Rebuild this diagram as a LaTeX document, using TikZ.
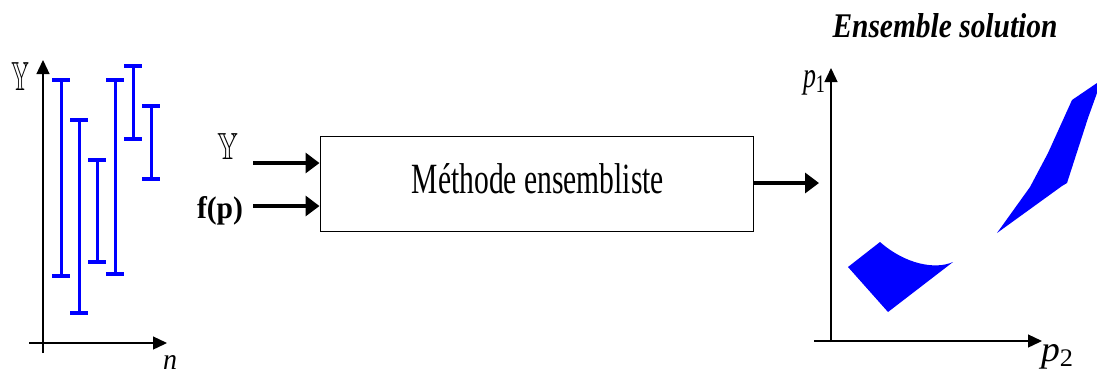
\documentclass[tikz,border=0pt]{standalone}
\usepackage{amssymb}
\usepackage{fontspec}
\setmainfont{Liberation Serif}
\newfontfamily\tms{Liberation Serif}
\usetikzlibrary{arrows.meta}
\definecolor{barblue}{RGB}{0,0,255}
\tikzset{
  axis/.style={line width=1.3pt,-{Triangle[length=14pt,width=13pt]}},
  flow/.style={line width=3.3pt,-{Triangle[length=14pt,width=20pt]}},
  ebar/.style={barblue,line width=3pt},
  ecap/.style={barblue,line width=4.5pt},
  lbl/.style={inner sep=0pt,anchor=base}
}
\newcommand{\fitbox}[3]{\resizebox{#1}{#2}{#3}}
\begin{document}
\begin{tikzpicture}[x=1pt,y=-1pt]
\useasboundingbox (0,0) rectangle (1097,376);
% left plot
\coordinate (lyb) at (43,353);
\coordinate (lyt) at (43,60);
\coordinate (lxl) at (29,343);
\coordinate (lxr) at (167,343);
\draw[axis] (lyb) -- (lyt);
\draw[axis] (lxl) -- (lxr);
\node[lbl] (ylab) at (21,90) {\fitbox{18pt}{28pt}{$\mathbb{Y}$}};
\node[lbl] (nlab) at (170,369) {\fitbox{14pt}{14pt}{\tms\itshape n}};
% error bars
\foreach \x/\t/\b in {61/80/276, 79/120/313, 97/160/262, 115/80/274, 133/66/139, 151/106/179}{
  \draw[ebar] (\x,\t) -- (\x,\b);
  \draw[ecap] (\x-9,\t) -- (\x+9,\t);
  \draw[ecap] (\x-9,\b) -- (\x+9,\b);
}
% middle block
\node[draw,line width=1pt,minimum width=433pt,minimum height=95pt,inner sep=0pt] (box) at (536.5,183.5) {};
\node[lbl] (mtext) at (538,193) {\fitbox{252pt}{30pt}{\tms Méthode ensembliste}};
\node[lbl] (yin) at (228,159) {\fitbox{21pt}{26pt}{$\mathbb{Y}$}};
\node[lbl] (fin) at (220,218) {\fitbox{46pt}{22pt}{\tms\bfseries f(p)}};
\coordinate (a1) at (253,163);
\coordinate (a2) at (253,206);
\draw[flow] (a1) -- (a1 -| box.west);
\draw[flow] (a2) -- (a2 -| box.west);
\coordinate (out) at (819,183);
\draw[flow] (out -| box.east) -- (out);
% right plot
\node[lbl] (title) at (945,37) {\fitbox{225pt}{24pt}{\tms\bfseries\itshape Ensemble solution}};
\coordinate (ryb) at (831,342);
\coordinate (ryt) at (831,68);
\coordinate (rxl) at (814,341);
\coordinate (rxr) at (1042,341);
\draw[axis] (ryb) -- (ryt);
\draw[axis] (rxl) -- (rxr);
\node[lbl] (p1lab) at (814,87) {\fitbox{22pt}{17pt}{\tms{\itshape p}\raisebox{-0.35ex}{\scriptsize 1}}};
\node[lbl] (p2lab) at (1057,361) {\fitbox{32pt}{17pt}{\tms{\itshape p}\raisebox{-0.35ex}{\scriptsize 2}}};
% solution sets
\fill[barblue] (848,267) -- (880,242) .. controls (905,264) and (935,270) .. (953,262) -- (888,312) -- cycle;
\fill[barblue] (997,233) -- (1030,187) -- (1048,153) -- (1072,100) -- (1097,83) -- (1097,93) -- (1088,118) -- (1067,183) -- (1062,186) -- cycle;
\end{tikzpicture}
\end{document}
